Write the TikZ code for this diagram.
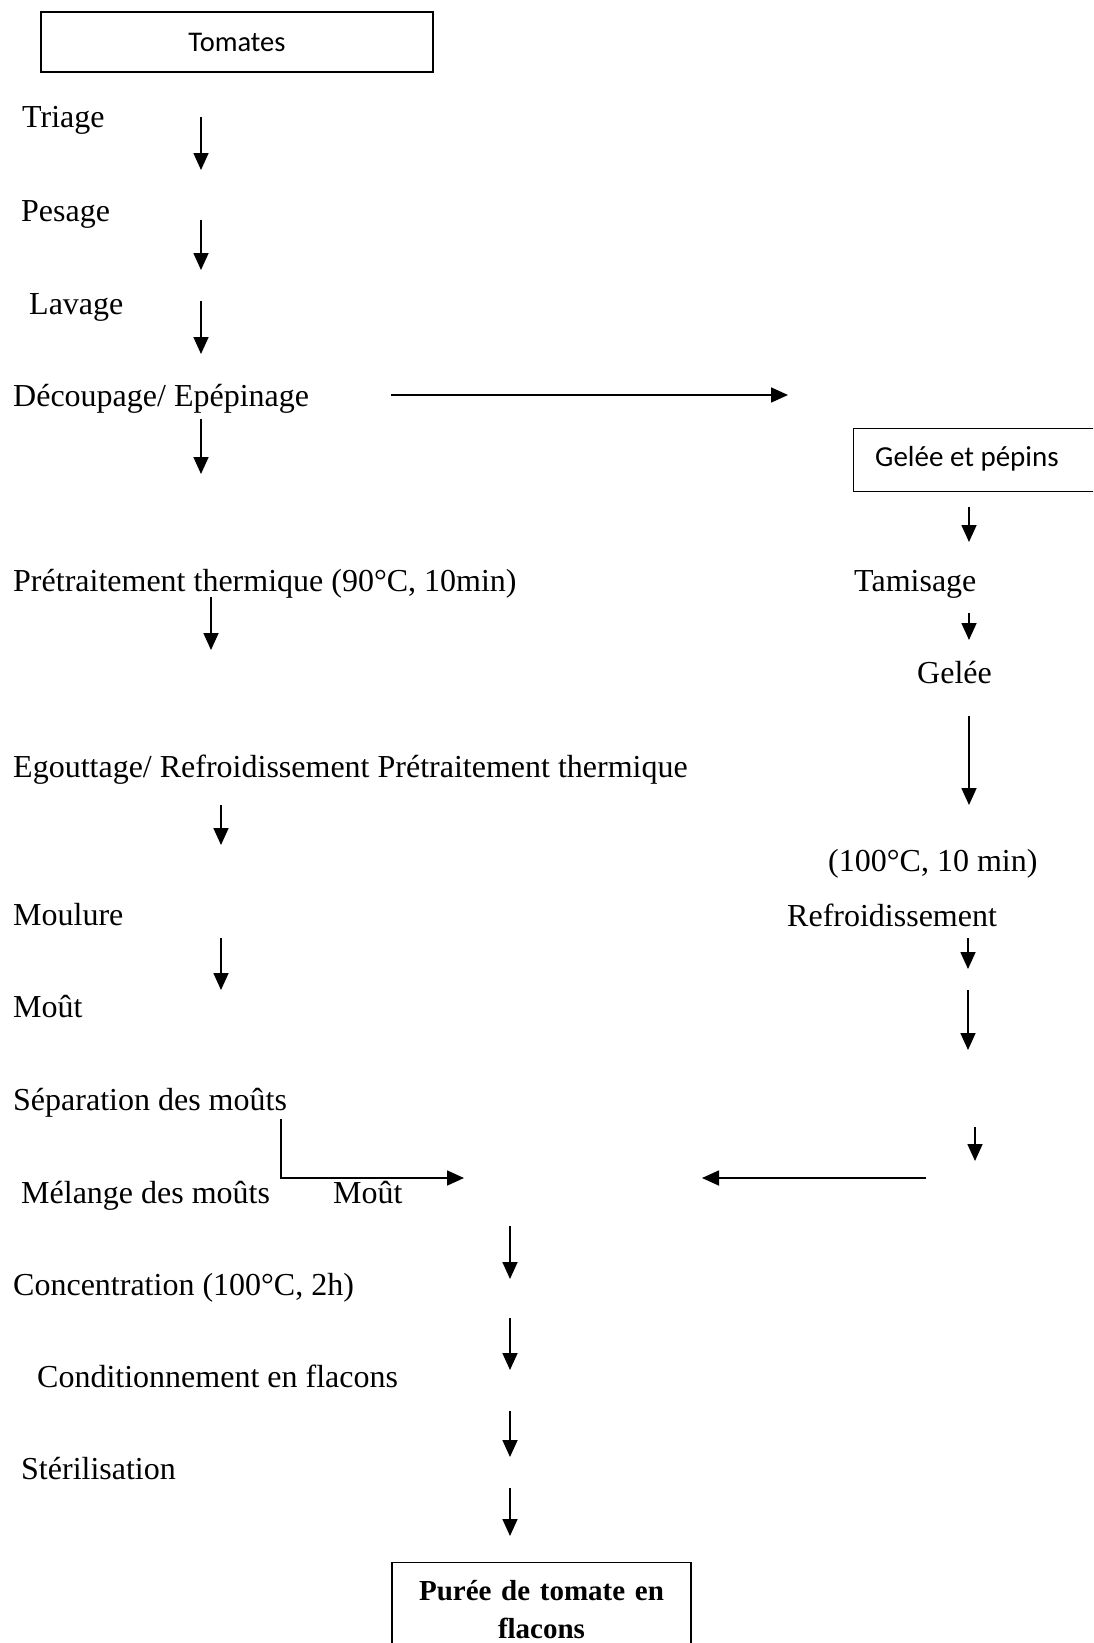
\documentclass[tikz,border=0pt]{standalone}
\usepackage{fontspec}
\setmainfont{Liberation Serif}
\newfontfamily\calib{Carlito}
\usetikzlibrary{arrows.meta}
\begin{document}
\begin{tikzpicture}[x=1pt,y=-1pt,
  lbl/.style={anchor=base west,inner sep=0pt,font=\fontsize{32}{36}\selectfont},
  boxtxt/.style={anchor=west,inner sep=0pt,font=\calib\fontsize{29}{34}\selectfont},
  frame/.style={draw,line width=1.4pt,inner sep=0pt},
  arr/.style={line width=1.7pt,-{Triangle[length=17pt,width=15pt]}}]
\useasboundingbox (0,0) rectangle (1093,1643);
\clip (0,0) rectangle (1093,1643);

% boxes
\node[frame,minimum width=392pt,minimum height=60pt,font=\calib\fontsize{28.5}{34}\selectfont] (tom) at (237,42) {Tomates};
\node[frame,anchor=north west,minimum width=260pt,minimum height=63pt] (gbox) at (853,428) {};
\node[boxtxt] (gtxt) at (875,459) {Gelée et pépins};
\node[frame,anchor=north,minimum width=299pt,text width=285pt,align=center,inner ysep=18pt,
      font=\bfseries\fontsize{29}{38}\selectfont] (pur) at (541.5,1562) {Purée de tomate en\\ flacons};

% left column labels
\node[lbl] (tri) at (22,128) {Triage};
\node[lbl] (pes) at (21,221) {Pesage};
\node[lbl] (lav) at (29,314) {Lavage};
\node[lbl] (dec) at (13,406) {Découpage/ Epépinage};
\node[lbl] (pre) at (13,591) {Prétraitement thermique (90°C, 10min)};
\node[lbl] (ego) at (13,777) {Egouttage/ Refroidissement Prétraitement thermique};
\node[lbl] (mou) at (13,925) {Moulure};
\node[lbl] (mot) at (13,1017) {Moût};
\node[lbl] (sep) at (13,1110) {Séparation des moûts};
\node[lbl] (mel) at (21,1203) {Mélange des moûts};
\node[lbl] (mot2) at (333,1203) {Moût};
\node[lbl] (con) at (13,1295) {Concentration (100°C, 2h)};
\node[lbl] (cond) at (37,1387) {Conditionnement en flacons};
\node[lbl] (ster) at (21,1479) {Stérilisation};

% right column labels
\node[lbl] (tam) at (854,591) {Tamisage};
\node[lbl] (gel) at (917,683) {Gelée};
\node[lbl] (tc) at (828,871) {(100°C, 10 min)};
\node[lbl] (ref) at (787,926) {Refroidissement};

% arrow end points
\coordinate (a1s) at (201,117);  \coordinate (a1e) at (201,170);
\coordinate (a2s) at (201,220);  \coordinate (a2e) at (201,270);
\coordinate (a3s) at (201,301);  \coordinate (a3e) at (201,354);
\coordinate (h1s) at (391,395);  \coordinate (h1e) at (788,395);
\coordinate (a4s) at (201,419);  \coordinate (a4e) at (201,474);
\coordinate (a5s) at (211,597);  \coordinate (a5e) at (211,650);
\coordinate (a6s) at (221,805);  \coordinate (a6e) at (221,845);
\coordinate (a7s) at (221,938);  \coordinate (a7e) at (221,990);
\coordinate (g1s) at (969,507);  \coordinate (g1e) at (969,542);
\coordinate (g2s) at (969,613);  \coordinate (g2e) at (969,640);
\coordinate (g3s) at (969,716);  \coordinate (g3e) at (969,805);
\coordinate (g4s) at (968,938);  \coordinate (g4e) at (968,969);
\coordinate (g5s) at (968,990);  \coordinate (g5e) at (968,1050);
\coordinate (g6s) at (975,1127); \coordinate (g6e) at (975,1161);
\coordinate (bks) at (281,1119); \coordinate (bke) at (464,1178);
\coordinate (lfs) at (926,1178); \coordinate (lfe) at (702,1178);
\coordinate (c1s) at (510,1226); \coordinate (c1e) at (510,1279);
\coordinate (c2s) at (510,1318); \coordinate (c2e) at (510,1370);
\coordinate (c3s) at (510,1411); \coordinate (c3e) at (510,1457);
\coordinate (c4s) at (510,1488); \coordinate (c4e) at (510,1536);

% arrows
\foreach \n in {a1,a2,a3,h1,a4,a5,a6,a7,g1,g2,g3,g4,g5,g6,lf,c1,c2,c3,c4}
  \draw[arr] (\n s) -- (\n e);
\draw[arr] (bks) |- (bke);
\end{tikzpicture}
\end{document}
